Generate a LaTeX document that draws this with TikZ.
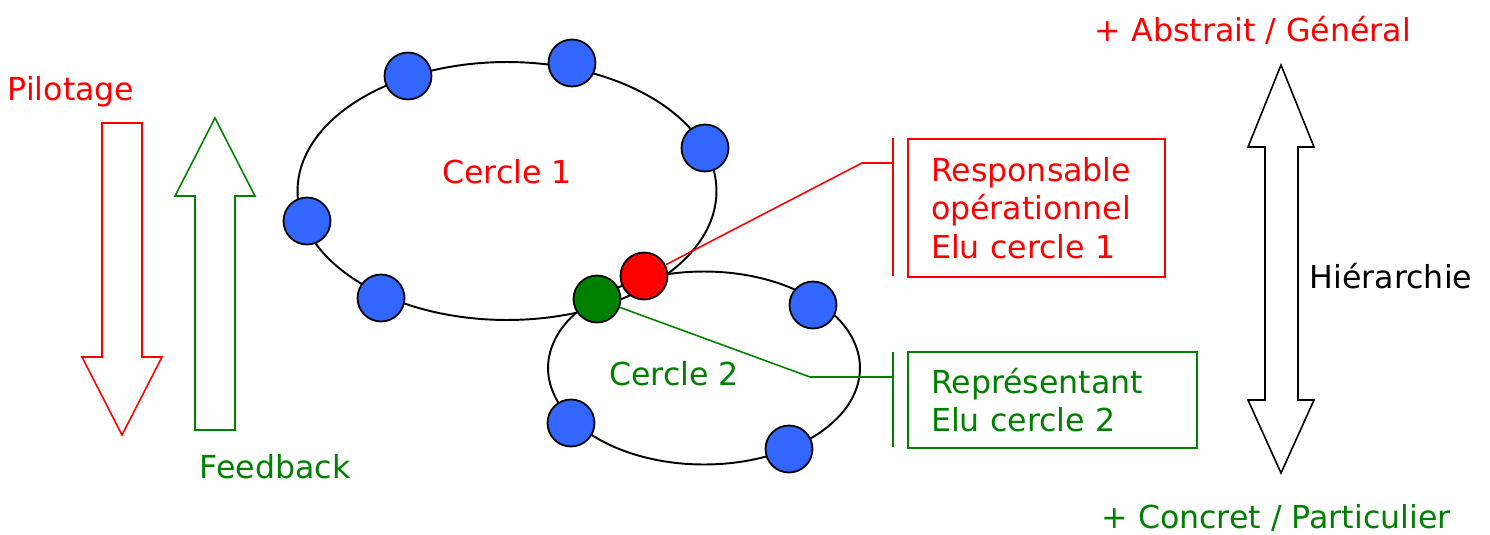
\documentclass[tikz,border=0pt]{standalone}
\usepackage{fontspec}
\setmainfont{DejaVu Sans}
\usepackage{tikz}
\usetikzlibrary{
  positioning,
  shapes.geometric
}
\usepackage{xcolor}
\definecolor{vert}{RGB}{0,128,0}
\definecolor{bleu}{RGB}{51,102,255}

\tikzset{
  cercle/.style={ellipse, draw=black, line width=1.1pt, inner sep=0pt},
  membre/.style={circle, draw=black, line width=1pt, fill=bleu, minimum size=0.94cm, inner sep=0pt},
  etiquette/.style={inner sep=0pt},
  boite/.style={draw, line width=0.9pt, align=left, inner xsep=0.46cm, inner ysep=0pt}
}

\begin{document}
\begin{tikzpicture}[x=0.02cm, y=-0.02cm, font=\fontsize{18pt}{22pt}\selectfont]

	\useasboundingbox (0,0) rectangle (1490,534);

	% fleches pilotage / feedback
	\draw[red, line width=0.9pt] (102,123) -- (142,123) -- (142,357) -- (162,357) -- (122,435) -- (82,357) -- (102,357) -- cycle;
	\draw[vert, line width=0.9pt] (195,430) -- (235,430) -- (235,196) -- (255,196) -- (215,118) -- (175,196) -- (195,196) -- cycle;
	\node[etiquette, text=red] (pil) at (71,92) {Pilotage};
	\node[etiquette, text=vert] (feed) at (275,467) {Feedback};

	% cercles
	\node[cercle, minimum width=8.38cm, minimum height=5.16cm] (c1) at (507,191) {};
	\node[cercle, minimum width=6.24cm, minimum height=3.86cm] (c2) at (704,368) {};
	\node[etiquette, text=red] (t1) at (507,172) {Cercle 1};
	\node[etiquette, text=vert] (t2) at (674,374) {Cercle 2};

	\node[membre] (m1) at (408,76) {};
	\node[membre] (m2) at (572,63) {};
	\node[membre] (m3) at (705,148) {};
	\node[membre] (m4) at (307,221) {};
	\node[membre] (m5) at (381,298) {};
	\node[membre] (m6) at (813,305) {};
	\node[membre] (m7) at (571,423) {};
	\node[membre] (m8) at (789,449) {};
	\node[membre, fill=red] (r) at (644,276) {};
	\node[membre, fill=vert] (g) at (597,299) {};

	% roles
	\node[boite, draw=red, text=red, text width=4.22cm, minimum width=5.14cm, minimum height=2.76cm] (rb) at (1036.5,208) {Responsable\\op\'erationnel\\Elu cercle 1};
	\node[boite, draw=vert, text=vert, text width=4.86cm, minimum width=5.78cm, minimum height=1.92cm] (gb) at (1052.5,400) {Repr\'esentant\\Elu cercle 2};

	\coordinate (rk) at (862,163);
	\coordinate (rbar) at (893,163);
	\coordinate (rtop) at (893,138);
	\coordinate (rbot) at (893,276);
	\draw[red, line width=0.9pt] (r) -- (rk) -- (rbar);
	\draw[red, line width=0.9pt] (rtop) -- (rbot);

	\coordinate (gk) at (810,377);
	\coordinate (gbar) at (893,377);
	\coordinate (gtop) at (893,352);
	\coordinate (gbot) at (893,447);
	\draw[vert, line width=0.9pt] (g) -- (gk) -- (gbar);
	\draw[vert, line width=0.9pt] (gtop) -- (gbot);

	% hierarchie
	\draw[black, line width=0.9pt] (1281,65) -- (1314,147) -- (1298,147) -- (1298,400) -- (1314,400) -- (1281,473) -- (1248,400) -- (1265,400) -- (1265,147) -- (1248,147) -- cycle;
	\node[etiquette] (hier) at (1391,276) {Hi\'erarchie};
	\node[etiquette, text=red] (abs) at (1253,30) {+ Abstrait / G\'en\'eral};
	\node[etiquette, text=vert] (conc) at (1276,518) {+ Concret / Particulier};

\end{tikzpicture}
\end{document}
